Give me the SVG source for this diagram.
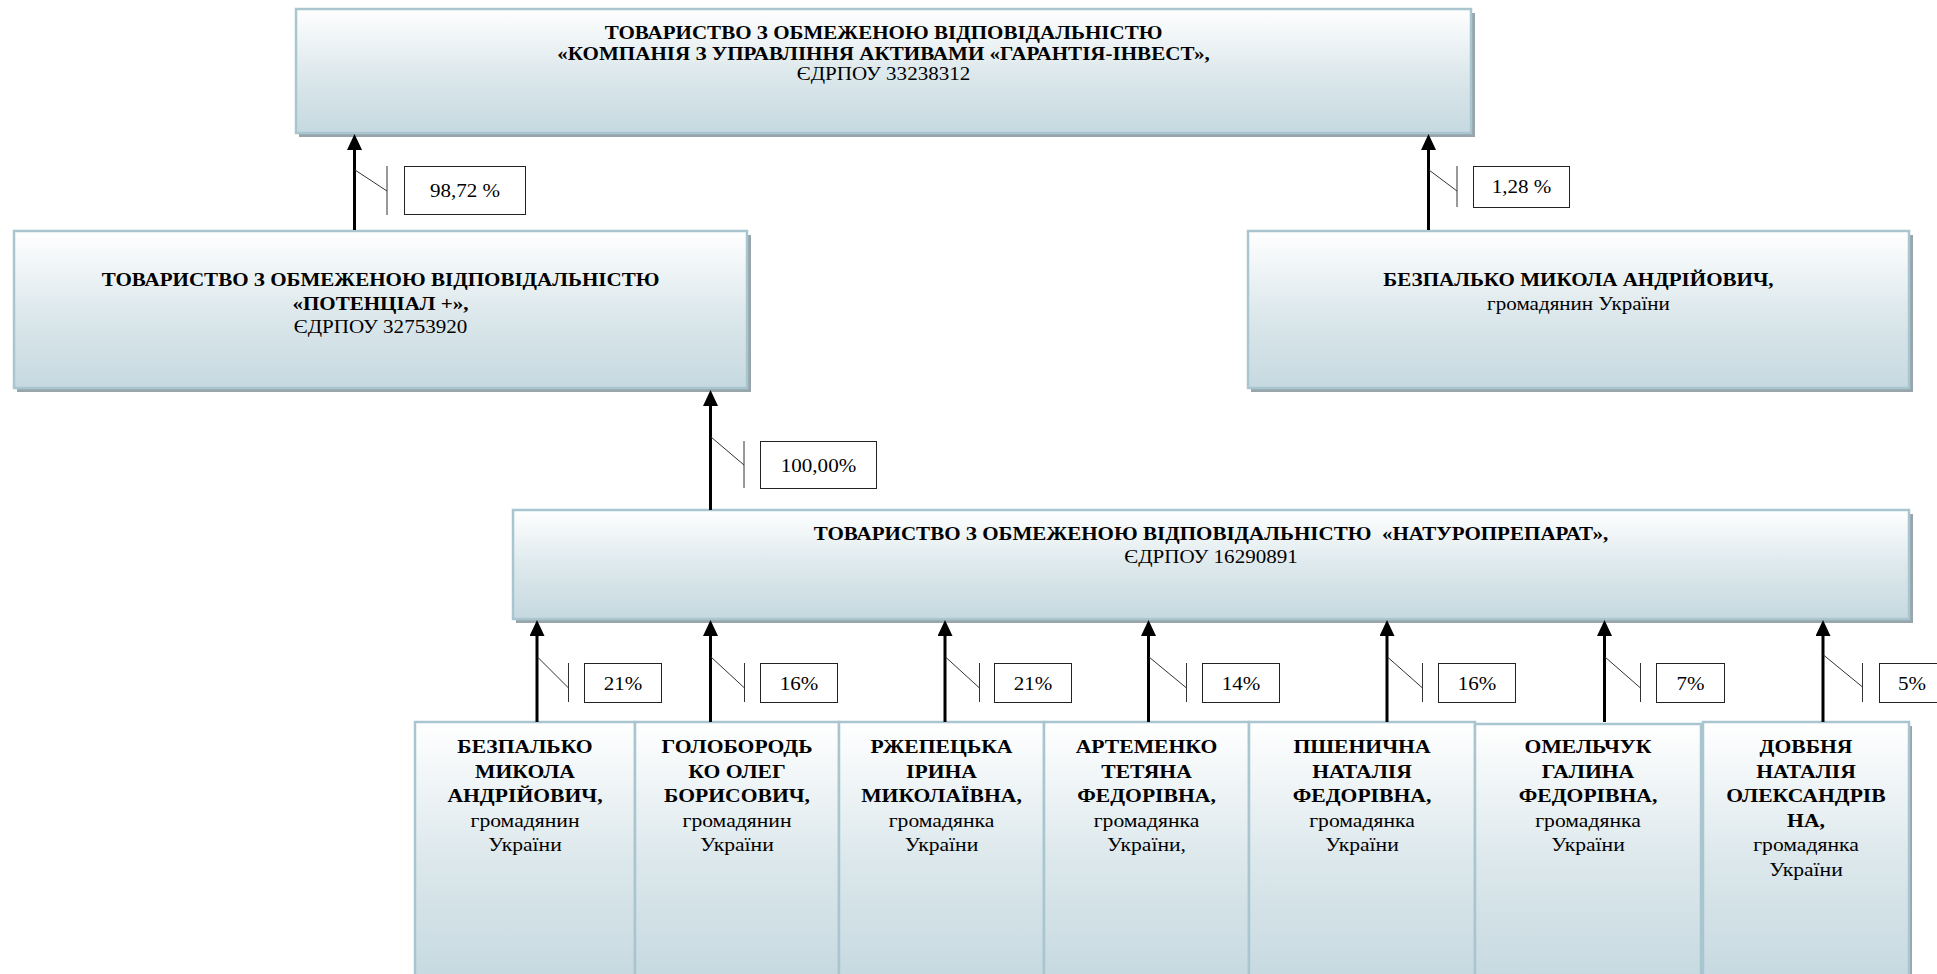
<svg xmlns="http://www.w3.org/2000/svg" width="1937" height="974" viewBox="0 0 1937 974">
<style>
.box{fill:url(#g);stroke:#a9c5d0;stroke-width:2.5}
.sh{fill:#98a6ac}
.t{font-family:"Liberation Serif","Times New Roman",serif;fill:#000;text-anchor:middle}
.b{font-weight:bold}
.h{font-size:18px}
.s{font-size:18.5px}
.l{font-size:18px}
.arr{stroke:#000;stroke-width:3;fill:none;marker-end:url(#ah)}
.tk{stroke:#333;stroke-width:1;fill:none}
.lb{fill:#fff;stroke:#222;stroke-width:1}
</style>
<defs>
<linearGradient id="g" x1="0" y1="0" x2="0" y2="1">
<stop offset="0" stop-color="#ffffff"/>
<stop offset="0.55" stop-color="#dbe7eb"/>
<stop offset="1" stop-color="#c6d9e0"/>
</linearGradient>
<marker id="ah" markerUnits="userSpaceOnUse" markerWidth="16" markerHeight="15" refX="0" refY="7.5" orient="auto" viewBox="0 0 16 15">
<path d="M0,0 L16,7.5 L0,15 z" fill="#000"/>
</marker>
</defs>
<rect width="1937" height="974" fill="#fff"/>

<g id="n-top">
<rect class="sh" x="299" y="13" width="1176" height="124"/>
<rect class="box" x="296" y="9" width="1175" height="124"/>
<text class="t b h" transform="translate(883.5,39) scale(1.17,1)">ТОВАРИСТВО З ОБМЕЖЕНОЮ ВІДПОВІДАЛЬНІСТЮ</text>
<text class="t b h" transform="translate(883.5,59.5) scale(1.17,1)">«КОМПАНІЯ З УПРАВЛІННЯ АКТИВАМИ «ГАРАНТІЯ-ІНВЕСТ»,</text>
<text class="t h" transform="translate(883.5,80) scale(1.17,1)">ЄДРПОУ 33238312</text>
</g>

<g id="n-potencial">
<rect class="sh" x="17" y="235" width="734" height="157"/>
<rect class="box" x="14" y="231" width="733" height="157"/>
<text class="t b h" transform="translate(380.5,286) scale(1.17,1)">ТОВАРИСТВО З ОБМЕЖЕНОЮ ВІДПОВІДАЛЬНІСТЮ</text>
<text class="t b h" transform="translate(380.5,310) scale(1.17,1)">«ПОТЕНЦІАЛ +»,</text>
<text class="t h" transform="translate(380.5,333) scale(1.17,1)">ЄДРПОУ 32753920</text>
</g>

<g id="n-bezpalko-top">
<rect class="sh" x="1251" y="235" width="662" height="157"/>
<rect class="box" x="1248" y="231" width="661" height="157"/>
<text class="t b h" transform="translate(1578.5,286) scale(1.17,1)">БЕЗПАЛЬКО МИКОЛА АНДРІЙОВИЧ,</text>
<text class="t h" transform="translate(1578.5,310) scale(1.17,1)">громадянин України</text>
</g>

<g id="n-naturopreparat">
<rect class="sh" x="516" y="514" width="1397" height="109"/>
<rect class="box" x="513" y="510" width="1396" height="109"/>
<text class="t b h" xml:space="preserve" transform="translate(1211,540) scale(1.17,1)">ТОВАРИСТВО З ОБМЕЖЕНОЮ ВІДПОВІДАЛЬНІСТЮ  «НАТУРОПРЕПАРАТ»,</text>
<text class="t h" transform="translate(1211,563) scale(1.17,1)">ЄДРПОУ 16290891</text>
</g>

<g id="n-p1">
<rect class="sh" x="418" y="726" width="220" height="260"/>
<rect class="box" x="415" y="722" width="220" height="260"/>
<text class="t b s" transform="translate(525,753) scale(1.17,1)">БЕЗПАЛЬКО</text>
<text class="t b s" transform="translate(525,777.5) scale(1.17,1)">МИКОЛА</text>
<text class="t b s" transform="translate(525,802) scale(1.17,1)">АНДРІЙОВИЧ,</text>
<text class="t s" transform="translate(525,826.5) scale(1.17,1)">громадянин</text>
<text class="t s" transform="translate(525,851) scale(1.17,1)">України</text>
</g>

<g id="n-p2">
<rect class="sh" x="638" y="726" width="204" height="260"/>
<rect class="box" x="635" y="722" width="204" height="260"/>
<text class="t b s" transform="translate(737,753) scale(1.17,1)">ГОЛОБОРОДЬ</text>
<text class="t b s" transform="translate(737,777.5) scale(1.17,1)">КО ОЛЕГ</text>
<text class="t b s" transform="translate(737,802) scale(1.17,1)">БОРИСОВИЧ,</text>
<text class="t s" transform="translate(737,826.5) scale(1.17,1)">громадянин</text>
<text class="t s" transform="translate(737,851) scale(1.17,1)">України</text>
</g>

<g id="n-p3">
<rect class="sh" x="842" y="726" width="205" height="260"/>
<rect class="box" x="839" y="722" width="205" height="260"/>
<text class="t b s" transform="translate(941.5,753) scale(1.17,1)">РЖЕПЕЦЬКА</text>
<text class="t b s" transform="translate(941.5,777.5) scale(1.17,1)">ІРИНА</text>
<text class="t b s" transform="translate(941.5,802) scale(1.17,1)">МИКОЛАЇВНА,</text>
<text class="t s" transform="translate(941.5,826.5) scale(1.17,1)">громадянка</text>
<text class="t s" transform="translate(941.5,851) scale(1.17,1)">України</text>
</g>

<g id="n-p4">
<rect class="sh" x="1047" y="726" width="205" height="260"/>
<rect class="box" x="1044" y="722" width="205" height="260"/>
<text class="t b s" transform="translate(1146.5,753) scale(1.17,1)">АРТЕМЕНКО</text>
<text class="t b s" transform="translate(1146.5,777.5) scale(1.17,1)">ТЕТЯНА</text>
<text class="t b s" transform="translate(1146.5,802) scale(1.17,1)">ФЕДОРІВНА,</text>
<text class="t s" transform="translate(1146.5,826.5) scale(1.17,1)">громадянка</text>
<text class="t s" transform="translate(1146.5,851) scale(1.17,1)">України,</text>
</g>

<g id="n-p5">
<rect class="sh" x="1252" y="726" width="226" height="260"/>
<rect class="box" x="1249" y="722" width="226" height="260"/>
<text class="t b s" transform="translate(1362,753) scale(1.17,1)">ПШЕНИЧНА</text>
<text class="t b s" transform="translate(1362,777.5) scale(1.17,1)">НАТАЛІЯ</text>
<text class="t b s" transform="translate(1362,802) scale(1.17,1)">ФЕДОРІВНА,</text>
<text class="t s" transform="translate(1362,826.5) scale(1.17,1)">громадянка</text>
<text class="t s" transform="translate(1362,851) scale(1.17,1)">України</text>
</g>

<g id="n-p6">
<rect class="sh" x="1478" y="728" width="226" height="260"/>
<rect class="box" x="1475" y="724" width="226" height="260"/>
<text class="t b s" transform="translate(1588,753) scale(1.17,1)">ОМЕЛЬЧУК</text>
<text class="t b s" transform="translate(1588,777.5) scale(1.17,1)">ГАЛИНА</text>
<text class="t b s" transform="translate(1588,802) scale(1.17,1)">ФЕДОРІВНА,</text>
<text class="t s" transform="translate(1588,826.5) scale(1.17,1)">громадянка</text>
<text class="t s" transform="translate(1588,851) scale(1.17,1)">України</text>
</g>

<g id="n-p7">
<rect class="sh" x="1706" y="726" width="206" height="260"/>
<rect class="box" x="1703" y="722" width="206" height="260"/>
<text class="t b s" transform="translate(1806,753) scale(1.17,1)">ДОВБНЯ</text>
<text class="t b s" transform="translate(1806,777.5) scale(1.17,1)">НАТАЛІЯ</text>
<text class="t b s" transform="translate(1806,802) scale(1.17,1)">ОЛЕКСАНДРІВ</text>
<text class="t b s" transform="translate(1806,826.5) scale(1.17,1)">НА,</text>
<text class="t s" transform="translate(1806,851) scale(1.17,1)">громадянка</text>
<text class="t s" transform="translate(1806,875.5) scale(1.17,1)">України</text>
</g>

<g id="connectors">
<line class="arr" x1="354.5" y1="230" x2="354.5" y2="150"/>
<path class="tk" d="M355,170 L387,191 M387,166 V215"/>
<rect class="lb" x="404.5" y="166.5" width="121" height="48"/>
<text class="t l" transform="translate(465,197) scale(1.17,1)">98,72 %</text>

<line class="arr" x1="1428.5" y1="230" x2="1428.5" y2="150"/>
<path class="tk" d="M1429,170 L1457,191 M1457,166 V207"/>
<rect class="lb" x="1473.5" y="166.5" width="96" height="41"/>
<text class="t l" transform="translate(1521.5,193) scale(1.17,1)">1,28 %</text>

<line class="arr" x1="710.5" y1="510" x2="710.5" y2="406"/>
<path class="tk" d="M711,437 L744,465 M744,441 V488"/>
<rect class="lb" x="760.5" y="441.5" width="116" height="47"/>
<text class="t l" transform="translate(818.5,472) scale(1.17,1)">100,00%</text>

<line class="arr" x1="537" y1="722" x2="537" y2="636"/>
<path class="tk" d="M537.5,657 L568.5,688 M568.5,663 V702"/>
<rect class="lb" x="584.5" y="663.5" width="77" height="39"/>
<text class="t l" transform="translate(623,690) scale(1.17,1)">21%</text>

<line class="arr" x1="710.5" y1="722" x2="710.5" y2="636"/>
<path class="tk" d="M711,657 L744.5,688 M744.5,663 V702"/>
<rect class="lb" x="760.5" y="663.5" width="77" height="39"/>
<text class="t l" transform="translate(799,690) scale(1.17,1)">16%</text>

<line class="arr" x1="945" y1="722" x2="945" y2="636"/>
<path class="tk" d="M945.5,657 L979.5,688 M979.5,663 V702"/>
<rect class="lb" x="994.5" y="663.5" width="77" height="39"/>
<text class="t l" transform="translate(1033,690) scale(1.17,1)">21%</text>

<line class="arr" x1="1148.5" y1="722" x2="1148.5" y2="636"/>
<path class="tk" d="M1149,657 L1186.5,688 M1186.5,663 V702"/>
<rect class="lb" x="1202.5" y="663.5" width="77" height="39"/>
<text class="t l" transform="translate(1241,690) scale(1.17,1)">14%</text>

<line class="arr" x1="1387" y1="722" x2="1387" y2="636"/>
<path class="tk" d="M1387.5,657 L1422.5,688 M1422.5,663 V702"/>
<rect class="lb" x="1438.5" y="663.5" width="77" height="39"/>
<text class="t l" transform="translate(1477,690) scale(1.17,1)">16%</text>

<line class="arr" x1="1604.5" y1="722" x2="1604.5" y2="636"/>
<path class="tk" d="M1605,657 L1640.5,688 M1640.5,663 V702"/>
<rect class="lb" x="1656.5" y="663.5" width="68" height="39"/>
<text class="t l" transform="translate(1690.5,690) scale(1.17,1)">7%</text>

<line class="arr" x1="1823" y1="722" x2="1823" y2="636"/>
<path class="tk" d="M1823.5,655 L1862.5,687 M1862.5,663 V702"/>
<rect class="lb" x="1879.5" y="663.5" width="66" height="39"/>
<text class="t l" transform="translate(1912,690) scale(1.17,1)">5%</text>
</g>
</svg>
